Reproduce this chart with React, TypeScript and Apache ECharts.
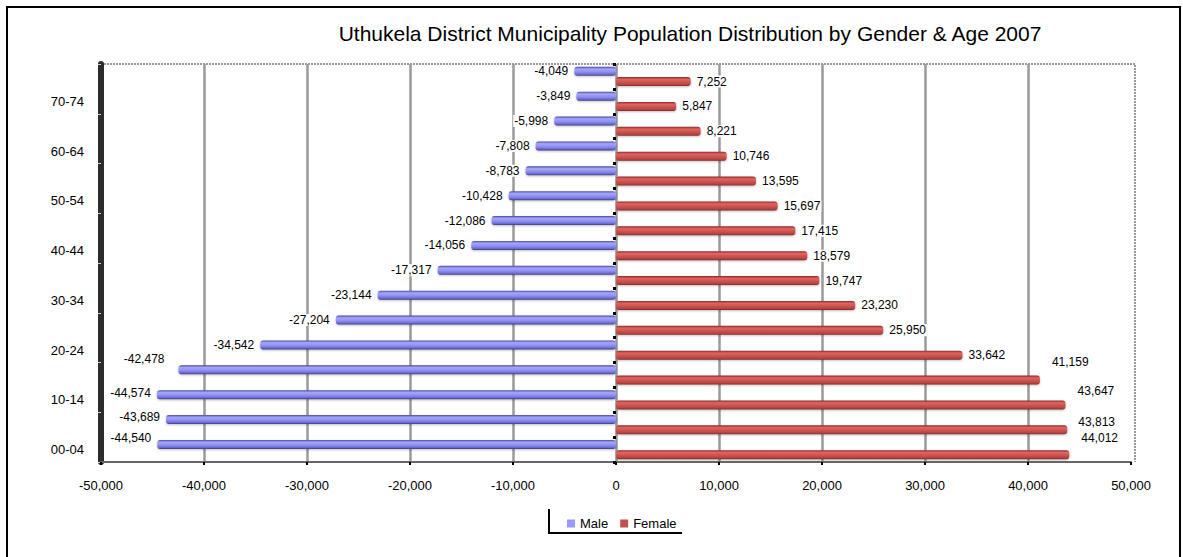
import React, { useEffect, useRef } from "react";
import * as echarts from "echarts";

// Age bands, youngest first (the category axis runs bottom to top)
const ageGroups = [
  "00-04", "05-09", "10-14", "15-19", "20-24", "25-29", "30-34", "35-39",
  "40-44", "45-49", "50-54", "55-59", "60-64", "65-69", "70-74", "75+",
];

// Male counts are negative so they extend left of the zero line
const maleValues = [
  -44540, -43689, -44574, -42478, -34542, -27204, -23144, -17317,
  -14056, -12086, -10428, -8783, -7808, -5998, -3849, -4049,
];

const femaleValues = [
  44012, 43813, 43647, 41159, 33642, 25950, 23230, 19747,
  18579, 17415, 15697, 13595, 10746, 8221, 5847, 7252,
];

const xTicks = { min: -50000, max: 50000, step: 10000 };

const TITLE = "Uthukela District Municipality Population Distribution by Gender & Age 2007";
const FONT = '"Liberation Sans", Arial, sans-serif';

// Nudges for the crowded labels near the outer edge of the plot
const maleLabelShift: Record<number, [number, number]> = {
  0: [0, -6],
  1: [0, -3],
  2: [0, -2],
  3: [-8, -11],
};
const femaleLabelShift: Record<number, [number, number]> = {
  0: [6, -17],
  1: [5, -8],
  2: [6, -14],
  3: [6, -18],
};

const fmt = (v: number) => v.toLocaleString("en-US");

function buildData(values: number[], shifts: Record<number, [number, number]>) {
  return values.map((v, i) =>
    shifts[i] ? { value: v, label: { offset: shifts[i] } } : { value: v }
  );
}

export default function App() {
  const ref = useRef<HTMLDivElement>(null);

  useEffect(() => {
    if (!ref.current) return;
    const chart = echarts.init(ref.current, null, { renderer: "svg" });

    const blue = new echarts.graphic.LinearGradient(0, 0, 0, 1, [
      { offset: 0, color: "#4a4a94" },
      { offset: 0.25, color: "#a4a4ff" },
      { offset: 0.55, color: "#9292f6" },
      { offset: 0.85, color: "#6a6ad0" },
      { offset: 1, color: "#3a3a80" },
    ]);
    const red = new echarts.graphic.LinearGradient(0, 0, 0, 1, [
      { offset: 0, color: "#8c2c2a" },
      { offset: 0.25, color: "#e2635f" },
      { offset: 0.55, color: "#cd5450" },
      { offset: 0.85, color: "#b04440" },
      { offset: 1, color: "#7a2422" },
    ]);

    const labelBase = {
      show: true,
      fontSize: 12,
      fontFamily: FONT,
      color: "#000",
      distance: 5,
      backgroundColor: "#fff",
      padding: [0, 1],
      formatter: (p: any) => fmt(p.value),
    };

    chart.setOption({
      animation: false,
      backgroundColor: "#fff",
      textStyle: { fontFamily: FONT },
      grid: { left: 101, right: 52, top: 64, bottom: 95 },
      legend: {
        left: 562,
        top: 512,
        itemWidth: 8,
        itemHeight: 8,
        itemGap: 12,
        icon: "rect",
        textStyle: { fontSize: 13, fontFamily: FONT, color: "#000" },
        data: [
          { name: "Male", itemStyle: { color: "#9999ff" } },
          { name: "Female", itemStyle: { color: "#c0504d" } },
        ],
      },
      xAxis: {
        type: "value",
        min: xTicks.min,
        max: xTicks.max,
        interval: xTicks.step,
        axisLine: {
          show: true,
          onZero: false,
          lineStyle: { color: "#666", width: 2, type: [2, 1] },
        },
        axisTick: { show: true, length: 3, lineStyle: { color: "#000", width: 2 } },
        axisLabel: {
          margin: 17,
          fontSize: 13,
          fontFamily: FONT,
          color: "#000",
          formatter: (v: number) => fmt(v),
        },
        splitLine: {
          show: true,
          showMinLine: false,
          showMaxLine: false,
          lineStyle: { color: "#9a9a9a", width: 2.5 },
        },
      },
      yAxis: [
        {
          type: "category",
          data: ageGroups,
          axisLine: { show: true, onZero: false, lineStyle: { color: "#2c2c2c", width: 6 } },
          axisTick: { show: true, length: 3, lineStyle: { color: "#cfcfcf", width: 1 } },
          axisLabel: {
            interval: 1,
            margin: 17,
            fontSize: 13,
            fontFamily: FONT,
            color: "#000",
          },
          splitLine: { show: false },
        },
        {
          // tick marks along the zero line
          type: "category",
          data: ageGroups,
          position: "left",
          axisLine: { show: false, onZero: true },
          axisTick: { show: true, length: 3, lineStyle: { color: "#000", width: 3 } },
          axisLabel: { show: false },
          splitLine: { show: false },
        },
      ],
      series: [
        {
          name: "Male",
          type: "bar",
          yAxisIndex: 0,
          barWidth: 9,
          barGap: "15%",
          data: buildData(maleValues, maleLabelShift),
          itemStyle: {
            color: blue,
            borderRadius: 3,
            shadowColor: "rgba(0,0,0,0.25)",
            shadowBlur: 2,
            shadowOffsetY: 1,
          },
          label: { ...labelBase, position: "left" },
        },
        {
          name: "Female",
          type: "bar",
          yAxisIndex: 0,
          barWidth: 9,
          barGap: "15%",
          data: buildData(femaleValues, femaleLabelShift),
          itemStyle: {
            color: red,
            borderRadius: 3,
            shadowColor: "rgba(0,0,0,0.25)",
            shadowBlur: 2,
            shadowOffsetY: 1,
          },
          label: { ...labelBase, position: "right" },
        },
      ],
      graphic: [
        {
          type: "rect",
          shape: { x: 7, y: 7, width: 1173, height: 560 },
          style: { fill: "none", stroke: "#000", lineWidth: 2 },
          silent: true,
        },
        {
          type: "polyline",
          shape: { points: [[101, 64], [1135, 64], [1135, 462]] },
          style: { fill: "none", stroke: "#9a9a9a", lineWidth: 2, lineDash: [2, 1] },
          silent: true,
        },
        {
          type: "polyline",
          shape: { points: [[549, 509], [549, 533], [682, 533]] },
          style: { fill: "none", stroke: "#000", lineWidth: 2 },
          silent: true,
        },
        {
          type: "text",
          x: 690,
          y: 33,
          style: {
            text: TITLE,
            align: "center",
            verticalAlign: "middle",
            fontSize: 21,
            fontFamily: FONT,
            fill: "#000",
          },
        },
      ],
    });

    return () => chart.dispose();
  }, []);

  return (
    <div
      ref={ref}
      style={{ position: "fixed", left: 0, top: 0, width: 1183, height: 557 }}
    />
  );
}
